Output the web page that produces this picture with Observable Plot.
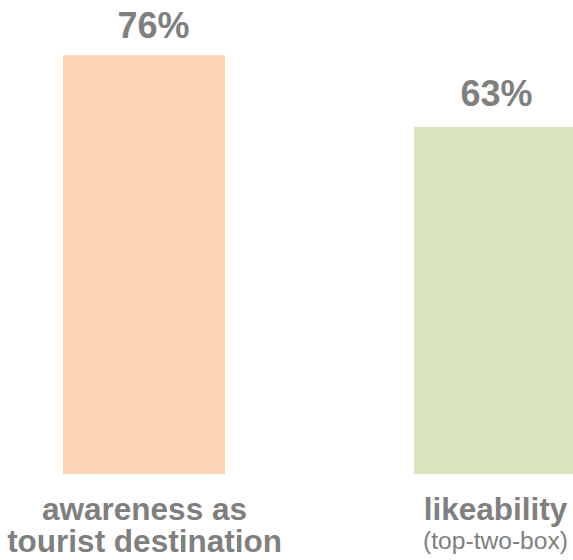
<!DOCTYPE html>
<html><head><meta charset="utf-8">
<script src="https://cdn.jsdelivr.net/npm/d3@7"></script>
<script src="https://cdn.jsdelivr.net/npm/@observablehq/plot@0.6"></script>
<style>html,body{margin:0;padding:0;background:#fff;overflow:hidden;}</style>
</head><body><div id="chart"></div>
<script>
const categories = ["awareness as\ntourist destination", "likeability"];
const values = [76, 63];
const valueLabels = ["76%", "63%"];
const subLabels = ["", "(top-two-box)"];
const colors = ["#FCD5B5", "#D7E4BD"];

const data = categories.map((c, i) => ({category: c, value: values[i], label: valueLabels[i], sub: subLabels[i], color: colors[i]}));
const font = "'Liberation Sans', Arial, sans-serif";
const grey = "#7F7F7F";

const chart = Plot.plot({
  width: 573, height: 560, margin: 0,
  style: {fontFamily: font, background: "#fff"},
  x: {domain: categories, range: [63, 577.5], paddingInner: 0.538, paddingOuter: 0, align: 0, axis: null},
  y: {domain: [0, 100], range: [474, -77], axis: null},
  color: {type: "identity"},
  marks: [
    Plot.barY(data, {x: "category", y: "value", fill: "color"}),
    Plot.text(data.slice(0, 1), {x: "category", y: "value", text: "label", dx: 9, dy: -18, lineAnchor: "bottom", fontSize: 36, fontWeight: "bold", fill: grey}),
    Plot.text(data.slice(1), {x: "category", y: "value", text: "label", dx: 1, dy: -21, lineAnchor: "bottom", fontSize: 36, fontWeight: "bold", fill: grey}),
    Plot.text(data, {x: "category", y: 0, text: "category", dy: 22.3, lineAnchor: "top", lineHeight: 1.03, fontSize: 31.5, fontWeight: "bold", fill: grey}),
    Plot.text(data, {x: "category", y: 0, text: "sub", dy: 57.5, lineAnchor: "top", fontSize: 24.6, fill: grey})
  ]
});
document.getElementById("chart").appendChild(chart);
</script>
</body></html>
